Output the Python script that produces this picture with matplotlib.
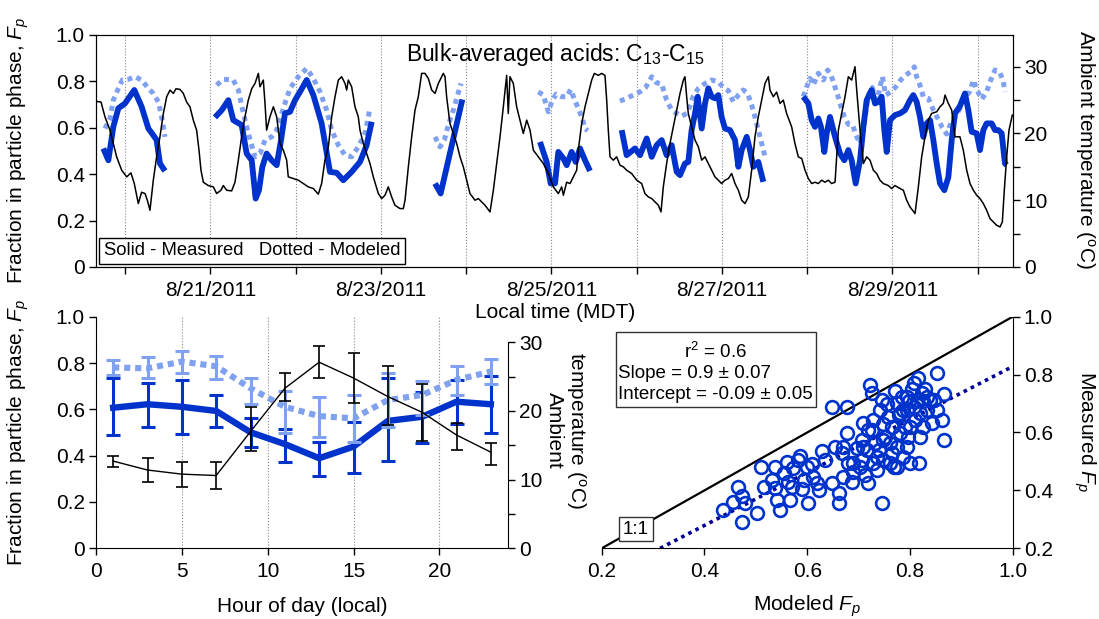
import numpy as np
import matplotlib
matplotlib.use("Agg")
import matplotlib.pyplot as plt
from matplotlib.patches import Rectangle

plt.rcParams['font.family'] = ['Liberation Sans', 'DejaVu Sans']
plt.rcParams['mathtext.fontset'] = 'custom'
plt.rcParams['mathtext.rm'] = 'Liberation Sans'
plt.rcParams['mathtext.it'] = 'Liberation Sans:italic'
plt.rcParams['mathtext.bf'] = 'Liberation Sans:bold'

# ---------------- data: top panel (time in fractional day of August 2011) ----------------
temp_day = [19.668, 19.719, 19.765, 19.824, 19.863, 19.902, 19.961, 20.020, 20.070, 20.109, 20.156, 20.195,
            20.235, 20.262, 20.293, 20.332, 20.371, 20.410, 20.450, 20.489, 20.528, 20.567, 20.598, 20.645,
            20.684, 20.723, 20.762, 20.801, 20.840, 20.868, 20.891, 20.919, 20.977, 21.036, 21.075, 21.126,
            21.153, 21.192, 21.251, 21.290, 21.329, 21.368, 21.407, 21.446, 21.486, 21.525, 21.564, 21.583,
            21.622, 21.642, 21.661, 21.700, 21.740, 21.779, 21.818, 21.857, 21.896, 21.915, 21.974, 22.033,
            22.091, 22.150, 22.209, 22.267, 22.306, 22.345, 22.385, 22.424, 22.463, 22.502, 22.541, 22.580,
            22.600, 22.619, 22.658, 22.697, 22.736, 22.756, 22.795, 22.834, 22.873, 22.912, 22.971, 23.010,
            23.049, 23.088, 23.127, 23.166, 23.225, 23.264, 23.284, 23.323, 23.362, 23.401, 23.440, 23.479,
            23.518, 23.557, 23.597, 23.636, 23.675, 23.733, 23.753, 23.772, 23.811, 23.850, 23.890, 23.929,
            23.968, 24.007, 24.046, 24.105, 24.144, 24.183, 24.222, 24.281, 24.320, 24.359, 24.398, 24.437,
            24.476, 24.495, 24.515, 24.554, 24.593, 24.632, 24.671, 24.711, 24.750, 24.789, 24.847, 24.906,
            24.965, 25.023, 25.082, 25.121, 25.141, 25.180, 25.219, 25.258, 25.297, 25.316, 25.356, 25.395,
            25.434, 25.473, 25.504, 25.551, 25.590, 25.629, 25.649, 25.668, 25.688, 25.727, 25.766, 25.805,
            25.844, 25.883, 25.942, 26.001, 26.059, 26.098, 26.137, 26.177, 26.216, 26.255, 26.286, 26.313,
            26.352, 26.391, 26.431, 26.470, 26.509, 26.548, 26.567, 26.587, 26.606, 26.645, 26.685, 26.724,
            26.763, 26.802, 26.841, 26.880, 26.919, 26.958, 26.997, 27.036, 27.076, 27.115, 27.154, 27.193,
            27.232, 27.271, 27.310, 27.349, 27.388, 27.427, 27.466, 27.506, 27.545, 27.564, 27.603, 27.642,
            27.681, 27.720, 27.759, 27.818, 27.857, 27.896, 27.936, 27.975, 28.014, 28.053, 28.092, 28.131,
            28.170, 28.209, 28.248, 28.287, 28.327, 28.366, 28.405, 28.444, 28.483, 28.522, 28.561, 28.581,
            28.620, 28.659, 28.698, 28.737, 28.776, 28.815, 28.854, 28.893, 28.952, 28.991, 29.030, 29.089,
            29.128, 29.167, 29.206, 29.265, 29.304, 29.343, 29.382, 29.421, 29.460, 29.519, 29.558, 29.597,
            29.617, 29.656, 29.695, 29.734, 29.792, 29.831, 29.871, 29.910, 29.949, 29.988, 30.027, 30.066,
            30.105, 30.144, 30.183, 30.222, 30.262, 30.289, 30.312, 30.340, 30.367, 30.406]
temp_c = [24.8, 24.7, 22.5, 20.5, 18.5, 16.5, 14.5, 13.5, 14.1, 12.5, 9.5, 11.2,
          11.0, 10.0, 8.5, 13.0, 16.5, 19.5, 23.0, 25.5, 26.5, 26.0, 26.7, 26.6,
          26.0, 24.7, 24.0, 22.0, 20.5, 17.5, 14.5, 12.7, 12.2, 12.0, 11.0, 11.5,
          12.2, 11.5, 11.4, 12.7, 16.0, 19.5, 22.5, 25.0, 26.7, 27.5, 29.0, 27.0,
          28.0, 24.5, 20.5, 22.5, 24.0, 22.5, 18.5, 17.5, 16.0, 13.5, 13.25, 13.0,
          12.5, 12.0, 11.75, 10.9, 12.5, 16.0, 18.0, 22.5, 25.5, 28.0, 28.5, 27.5,
          26.5, 28.0, 27.0, 24.0, 22.5, 20.5, 18.5, 17.0, 15.5, 13.5, 11.0, 10.25,
          10.75, 12.0, 10.5, 9.25, 8.75, 8.75, 10.0, 15.0, 19.5, 23.5, 25.5, 29.0,
          29.0, 28.25, 26.5, 26.0, 27.5, 29.0, 28.5, 25.5, 21.5, 20.0, 18.5, 16.5,
          15.0, 13.0, 11.0, 10.0, 10.25, 9.75, 9.25, 8.25, 11.5, 15.5, 19.5, 24.0,
          28.7, 23.0, 28.5, 27.5, 24.0, 22.0, 20.0, 22.0, 20.5, 17.5, 16.5, 15.5,
          14.0, 12.0, 11.0, 12.0, 10.75, 12.7, 12.5, 13.5, 14.5, 17.5, 21.5, 24.0,
          26.0, 28.0, 29.0, 28.7, 29.0, 28.7, 25.0, 20.5, 16.5, 16.0, 16.5, 15.25,
          15.0, 14.5, 14.0, 13.0, 12.5, 11.0, 10.5, 10.25, 9.75, 9.25, 8.25, 12.0,
          15.5, 18.5, 21.0, 23.5, 26.0, 28.0, 28.5, 25.5, 23.0, 21.0, 19.0, 18.0,
          16.0, 16.5, 15.5, 14.5, 13.5, 13.0, 12.5, 13.0, 13.25, 14.0, 12.5, 11.5,
          10.0, 9.5, 10.5, 14.5, 19.5, 22.5, 25.0, 27.5, 28.5, 26.5, 25.5, 26.2,
          24.5, 25.0, 23.0, 21.0, 18.5, 16.5, 16.25, 14.5, 13.25, 12.5, 12.7, 12.5,
          13.0, 12.7, 13.0, 12.5, 12.7, 20.5, 23.0, 25.5, 28.5, 28.0, 30.0, 26.5,
          20.5, 15.5, 16.5, 16.0, 14.5, 14.0, 13.0, 12.5, 12.2, 11.75, 12.2, 11.75,
          11.5, 10.0, 9.0, 8.0, 12.0, 16.5, 19.5, 22.0, 23.0, 23.25, 24.0, 24.5,
          25.75, 24.5, 23.5, 19.5, 19.5, 17.5, 14.5, 12.5, 11.5, 10.75, 10.25, 9.5,
          8.5, 7.25, 6.75, 6.25, 6.0, 6.75, 11.5, 16.5, 20.5, 22.75]

nan = float('nan')
meas_day = [19.746, 19.805, 19.863, 19.922, 20.000, 20.109, 20.195, 20.274, 20.332, 20.371, 20.410, 20.469, nan,
            21.055, 21.134, 21.212, 21.270, 21.368, 21.427, 21.486, 21.532, 21.571, 21.611, 21.661, 21.720,
            21.779, 21.830, 21.876, 21.935, 21.994, 22.052, 22.131, 22.209, 22.306, 22.404, 22.482, 22.560,
            22.658, 22.756, 22.834, 22.893, nan,
            23.636, 23.702, 23.956, nan,
            24.867, 24.945, 24.992, 25.043, 25.082, 25.141, 25.180, 25.238, 25.285, 25.336, 25.395, 25.453, nan,
            25.825, 25.883, 25.981, 26.040, 26.118, 26.177, 26.235, 26.294, 26.352, 26.411, 26.470, 26.509,
            26.567, 26.606, 26.645, 26.685, 26.716, 26.763, 26.802, 26.841, 26.880, 26.919, 26.958, 26.997,
            27.036, 27.095, 27.154, 27.193, 27.232, 27.291, 27.330, 27.369, 27.427, 27.486, nan,
            27.955, 28.014, 28.053, 28.092, 28.131, 28.162, 28.201, 28.229, 28.268, 28.327, 28.385, 28.436,
            28.483, 28.522, 28.569, 28.620, 28.659, 28.698, 28.756, 28.796, 28.835, 28.874, 28.905, 28.933,
            28.972, 29.030, 29.089, 29.147, 29.206, 29.245, 29.284, 29.323, 29.362, 29.402, 29.441, 29.480,
            29.519, 29.558, 29.609, 29.656, 29.695, 29.734, 29.792, 29.851, 29.890, 29.929, 29.988, 30.027,
            30.066, 30.105, 30.164, 30.203, 30.242, 30.281, 30.320, 30.340]
meas_fp = [0.511, 0.460, 0.604, 0.684, 0.705, 0.763, 0.691, 0.597, 0.568, 0.547, 0.446, 0.414, nan,
           0.645, 0.676, 0.719, 0.633, 0.612, 0.489, 0.460, 0.295, 0.331, 0.432, 0.489, 0.460,
           0.439, 0.547, 0.662, 0.669, 0.719, 0.755, 0.806, 0.741, 0.619, 0.410, 0.406, 0.374,
           0.410, 0.453, 0.525, 0.626, nan,
           0.360, 0.317, 0.722, nan,
           0.539, 0.453, 0.360, 0.360, 0.496, 0.468, 0.439, 0.496, 0.453, 0.511, 0.460, 0.414, nan,
           0.590, 0.482, 0.511, 0.482, 0.554, 0.475, 0.525, 0.547, 0.482, 0.525, 0.410, 0.396,
           0.446, 0.453, 0.590, 0.662, 0.734, 0.597, 0.705, 0.770, 0.734, 0.727, 0.741, 0.647,
           0.597, 0.590, 0.547, 0.432, 0.504, 0.561, 0.504, 0.432, 0.453, 0.367, nan,
           0.734, 0.705, 0.633, 0.604, 0.640, 0.604, 0.496, 0.576, 0.647, 0.561, 0.489, 0.460,
           0.504, 0.460, 0.360, 0.460, 0.604, 0.719, 0.763, 0.705, 0.712, 0.734, 0.590, 0.496,
           0.633, 0.655, 0.662, 0.676, 0.719, 0.741, 0.712, 0.647, 0.561, 0.619, 0.633, 0.547,
           0.446, 0.360, 0.331, 0.388, 0.547, 0.662, 0.694, 0.748, 0.676, 0.583, 0.576, 0.504,
           0.590, 0.619, 0.619, 0.590, 0.590, 0.576, 0.446, 0.439]

mod_day = [19.765, 19.824, 19.863, 19.914, 19.969, 20.039, 20.117, 20.195, 20.274, 20.332, 20.391, 20.430, 20.469, nan,
           21.075, 21.153, 21.270, 21.329, 21.380, 21.427, 21.474, 21.525, 21.583, 21.642, 21.720, 21.779,
           21.857, 21.935, 22.033, 22.131, 22.209, 22.287, 22.365, 22.424, 22.502, 22.580, 22.658, 22.736,
           22.815, 22.873, nan,
           23.636, 23.694, 23.745, 23.792, 23.850, 23.901, 23.940, nan,
           24.847, 24.906, 24.965, 25.004, 25.055, 25.121, 25.180, 25.227, 25.266, 25.324, 25.363, 25.395, 25.426, nan,
           25.805, 25.883, 25.961, 26.040, 26.106, 26.177, 26.235, 26.294, 26.352, 26.411, 26.470, 26.528,
           26.587, 26.626, 26.665, 26.724, 26.802, 26.880, 26.958, 27.017, 27.076, 27.134, 27.193, 27.251,
           27.302, 27.349, 27.388, 27.427, 27.466, 27.506, nan,
           27.955, 27.994, 28.033, 28.072, 28.131, 28.190, 28.240, 28.280, 28.319, 28.358, 28.397, 28.436,
           28.483, 28.534, 28.573, 28.620, 28.659, 28.686, 28.717, 28.764, 28.803, 28.842, 28.882, 28.921,
           28.983, 29.038, 29.097, 29.155, 29.214, 29.257, 29.284, 29.323, 29.362, 29.421, 29.480, 29.538,
           29.585, 29.636, 29.695, 29.753, 29.804, 29.859, 29.910, 29.949, 29.992, 30.047, 30.105, 30.144,
           30.203, 30.262, 30.301, 30.320]
mod_fp = [0.597, 0.640, 0.719, 0.763, 0.806, 0.809, 0.820, 0.806, 0.770, 0.748, 0.712, 0.647, 0.561, nan,
          0.784, 0.809, 0.806, 0.763, 0.676, 0.604, 0.539, 0.475, 0.489, 0.547, 0.561, 0.590,
          0.684, 0.770, 0.820, 0.856, 0.813, 0.755, 0.676, 0.590, 0.525, 0.482, 0.475, 0.518,
          0.576, 0.684, nan,
          0.561, 0.518, 0.547, 0.612, 0.676, 0.741, 0.791, nan,
          0.755, 0.741, 0.669, 0.712, 0.745, 0.734, 0.734, 0.765, 0.727, 0.677, 0.640, 0.597, 0.587, nan,
          0.715, 0.727, 0.741, 0.755, 0.774, 0.820, 0.794, 0.789, 0.719, 0.676, 0.662, 0.650,
          0.662, 0.694, 0.737, 0.770, 0.791, 0.806, 0.798, 0.774, 0.760, 0.712, 0.741, 0.763,
          0.748, 0.698, 0.647, 0.590, 0.532, 0.475, nan,
          0.734, 0.776, 0.813, 0.784, 0.835, 0.806, 0.849, 0.827, 0.784, 0.741, 0.691, 0.647,
          0.615, 0.612, 0.568, 0.532, 0.590, 0.662, 0.741, 0.774, 0.719, 0.755, 0.820, 0.741,
          0.755, 0.776, 0.806, 0.827, 0.842, 0.863, 0.820, 0.784, 0.734, 0.727, 0.676, 0.636,
          0.601, 0.573, 0.630, 0.655, 0.694, 0.734, 0.758, 0.806, 0.763, 0.723, 0.755, 0.798,
          0.849, 0.837, 0.798, 0.755]

date_ticks = [20, 21, 22, 23, 24, 25, 26, 27, 28, 29, 30]
date_labels = ['', '8/21/2011', '', '8/23/2011', '', '8/25/2011', '', '8/27/2011', '', '8/29/2011', '']

# ---------------- data: diurnal panel ----------------
hours = [1, 3, 5, 7, 9, 11, 13, 15, 17, 19, 21, 23]
meas_mean = [0.607, 0.622, 0.611, 0.593, 0.501, 0.450, 0.389, 0.439, 0.550, 0.568, 0.633, 0.622]
meas_lo = [0.489, 0.525, 0.492, 0.525, 0.439, 0.371, 0.313, 0.324, 0.378, 0.453, 0.535, 0.496]
meas_hi = [0.734, 0.715, 0.727, 0.662, 0.561, 0.515, 0.458, 0.547, 0.734, 0.676, 0.727, 0.744]
mod_mean = [0.781, 0.777, 0.806, 0.786, 0.691, 0.611, 0.571, 0.561, 0.640, 0.662, 0.727, 0.763]
mod_lo = [0.748, 0.734, 0.758, 0.731, 0.622, 0.499, 0.482, 0.460, 0.525, 0.576, 0.662, 0.709]
mod_hi = [0.813, 0.825, 0.852, 0.832, 0.737, 0.679, 0.652, 0.662, 0.756, 0.722, 0.789, 0.816]
temp_mean = [12.7, 11.4, 10.8, 10.6, 17.0, 23.3, 27.1, 24.8, 22.1, 19.8, 16.5, 14.0]
temp_lo = [11.9, 9.6, 9.0, 8.6, 14.2, 21.5, 24.8, 21.1, 18.0, 15.6, 14.3, 12.2]
temp_hi = [13.5, 13.2, 12.6, 12.6, 20.6, 25.6, 29.5, 28.4, 26.6, 24.0, 18.2, 15.4]

# ---------------- data: scatter panel ----------------
modeled_fp = [0.437, 0.456, 0.466, 0.473, 0.479, 0.474, 0.502, 0.510, 0.537, 0.531, 0.537, 0.541, 0.547,
              0.560, 0.554, 0.563, 0.570, 0.567, 0.573, 0.583, 0.586, 0.589, 0.602, 0.599, 0.609, 0.612,
              0.619, 0.622, 0.628, 0.635, 0.648, 0.654, 0.661, 0.661, 0.667, 0.670, 0.677, 0.678, 0.680,
              0.687, 0.690, 0.696, 0.706, 0.706, 0.709, 0.713, 0.716, 0.719, 0.719, 0.722, 0.726, 0.728,
              0.729, 0.732, 0.735, 0.739, 0.746, 0.745, 0.747, 0.752, 0.755, 0.758, 0.761, 0.765, 0.768,
              0.771, 0.774, 0.778, 0.781, 0.784, 0.787, 0.791, 0.794, 0.797, 0.800, 0.804, 0.807, 0.810,
              0.813, 0.816, 0.820, 0.823, 0.826, 0.829, 0.833, 0.839, 0.842, 0.852, 0.862, 0.866, 0.867,
              0.818, 0.799, 0.787, 0.703, 0.709, 0.735, 0.748, 0.761, 0.774, 0.781, 0.794, 0.807, 0.820,
              0.826, 0.794, 0.748, 0.726, 0.742, 0.774, 0.800, 0.846, 0.852, 0.833, 0.765, 0.690, 0.670,
              0.648, 0.593, 0.515]
measured_fp = [0.332, 0.361, 0.413, 0.381, 0.355, 0.292, 0.321, 0.482, 0.482, 0.436, 0.407, 0.367, 0.332,
               0.499, 0.459, 0.430, 0.413, 0.367, 0.476, 0.505, 0.519, 0.404, 0.355, 0.482, 0.491, 0.448,
               0.425, 0.401, 0.537, 0.505, 0.689, 0.551, 0.392, 0.355, 0.528, 0.448, 0.597, 0.689, 0.494,
               0.430, 0.465, 0.545, 0.574, 0.505, 0.632, 0.453, 0.540, 0.425, 0.609, 0.764, 0.738, 0.494,
               0.643, 0.563, 0.471, 0.540, 0.355, 0.712, 0.629, 0.586, 0.699, 0.655, 0.563, 0.618, 0.482,
               0.745, 0.551, 0.661, 0.597, 0.724, 0.517, 0.620, 0.678, 0.586, 0.494, 0.749, 0.772, 0.643,
               0.712, 0.787, 0.586, 0.735, 0.710, 0.749, 0.678, 0.712, 0.634, 0.807, 0.643, 0.733, 0.574,
               0.496, 0.710, 0.676, 0.482, 0.551, 0.517, 0.505, 0.494, 0.482, 0.666, 0.724, 0.689, 0.666,
               0.620, 0.551, 0.574, 0.609, 0.678, 0.701, 0.620, 0.712, 0.678, 0.724, 0.528, 0.494, 0.551,
               0.425, 0.436, 0.413]
fit_slope = 0.915
fit_intercept = -0.087

# ---------------- styling ----------------
BLUE = '#0033CC'
LIGHT = '#80A0F0'
NAVY = '#000099'
FS = 15
W, H = 1099, 619
fig = plt.figure(figsize=(W / 100, H / 100), dpi=100)


def px_axes(l, t, r, b):
    return fig.add_axes([l / W, 1 - b / H, (r - l) / W, (b - t) / H])


def ftext(x, y, s, **kw):
    fig.text(x / W, 1 - y / H, s, ha=kw.pop('ha', 'center'), va=kw.pop('va', 'center'), **kw)


tick_kw = dict(direction='out', length=5, width=1, labelsize=FS, pad=3)

# ================= top panel =================
ax1 = px_axes(96, 35, 1013, 267)
ax1t = ax1.twinx()
ax1.plot(meas_day, meas_fp, color=BLUE, lw=4.2, solid_joinstyle='round', solid_capstyle='butt', zorder=3)
ax1.plot(mod_day, mod_fp, color=LIGHT, lw=3.6, linestyle=(0, (1, 0.9)), zorder=2)
ax1t.plot(temp_day, temp_c, color='black', lw=1.1)
ax1.set_xlim(19.66, 30.414)
ax1.set_ylim(0, 1)
ax1t.set_ylim(0, 34.75)
ax1.set_xticks(date_ticks)
ax1.set_xticklabels(date_labels)
ax1.set_yticks([0, 0.2, 0.4, 0.6, 0.8, 1.0])
ax1.set_yticklabels(['0', '0.2', '0.4', '0.6', '0.8', '1.0'])
ax1t.set_yticks([0, 10, 20, 30])
ax1t.set_yticks([5, 15, 25], minor=True)
ax1.grid(axis='x', linestyle=':', color='#888888', lw=0.8)
ax1.tick_params(**tick_kw)
ax1.tick_params(axis='x', pad=5)
ax1t.tick_params(which='both', **tick_kw)
ax1.text((555 - 96) / 917, (267 - 55) / 232, 'Bulk-averaged acids: C$_{13}$-C$_{15}$',
         transform=ax1.transAxes, ha='center', va='center', fontsize=16.5)
ax1.text((104 - 96) / 917, (267 - 251) / 232, 'Solid - Measured   Dotted - Modeled',
         transform=ax1.transAxes, ha='left', va='center', fontsize=13.3, zorder=10,
         bbox=dict(boxstyle='square,pad=0.25', fc='white', ec='black', lw=1))
ftext(18, 150, 'Fraction in particle phase, $F_p$', rotation=90, fontsize=FS)
ftext(1085, 150, 'Ambient temperature ($^{\\rm o}$C)', rotation=270, fontsize=FS)
ftext(555, 313, 'Local time (MDT)', fontsize=FS)

# ================= bottom-left: diurnal =================
ax2 = px_axes(96, 316.7, 508, 548.3)
ax2t = ax2.twinx()
m_err = [np.array(meas_mean) - np.array(meas_lo), np.array(meas_hi) - np.array(meas_mean)]
p_err = [np.array(mod_mean) - np.array(mod_lo), np.array(mod_hi) - np.array(mod_mean)]
t_err = [np.array(temp_mean) - np.array(temp_lo), np.array(temp_hi) - np.array(temp_mean)]
ax2.errorbar(hours, meas_mean, yerr=m_err, fmt='none', ecolor=BLUE, elinewidth=2.2, capsize=5, capthick=2.2, zorder=2)
ax2.plot(hours, meas_mean, color=BLUE, lw=4.6, solid_joinstyle='round', zorder=3)
ax2.errorbar(hours, mod_mean, yerr=p_err, fmt='none', ecolor=LIGHT, elinewidth=2.2, capsize=5, capthick=2.2, zorder=4)
ax2.plot(hours, mod_mean, color=LIGHT, lw=4.4, linestyle=(0, (1, 0.8)), zorder=4)
ax2t.errorbar(hours, temp_mean, yerr=t_err, fmt='none', ecolor='black', elinewidth=1.2, capsize=4.5, capthick=1.2)
ax2t.plot(hours, temp_mean, color='black', lw=1.0)
ax2.set_xlim(0, 24)
ax2.set_ylim(0, 1)
ax2t.set_ylim(0, 33.73)
ax2.set_xticks([0, 5, 10, 15, 20])
ax2.set_yticks([0, 0.2, 0.4, 0.6, 0.8, 1.0])
ax2.set_yticklabels(['0', '0.2', '0.4', '0.6', '0.8', '1.0'])
ax2t.set_yticks([0, 10, 20, 30])
ax2t.set_yticks([5, 15, 25], minor=True)
ax2.grid(axis='x', linestyle=':', color='#888888', lw=0.8)
for sp in ['top', 'right']:
    ax2.spines[sp].set_visible(False)
for sp in ['top', 'left', 'bottom']:
    ax2t.spines[sp].set_visible(False)
ax2t.spines['right'].set_bounds(0, 30)
ax2.tick_params(**tick_kw)
ax2.tick_params(axis='x', pad=5)
ax2t.tick_params(which='both', **tick_kw)
ftext(18, 432, 'Fraction in particle phase, $F_p$', rotation=90, fontsize=FS)
ftext(566, 430, 'temperature ($^{\\rm o}$C)\nAmbient', rotation=270, fontsize=FS, multialignment='center',
      linespacing=1.0)
ftext(302, 606, 'Hour of day (local)', fontsize=FS)

# ================= bottom-right: scatter =================
ax3 = px_axes(601.7, 316.7, 1012.7, 548.3)
ax3.plot([0.2, 1.0], [0.2, 1.0], color='black', lw=1.6, zorder=2)
x0 = (0.2 - fit_intercept) / fit_slope
ax3.plot([x0, 1.0], [fit_slope * x0 + fit_intercept, fit_slope * 1.0 + fit_intercept],
         color=NAVY, lw=2.6, linestyle=(0, (1, 1.2)), zorder=3)
ax3.plot(modeled_fp, measured_fp, linestyle='none', marker='o', ms=9.2, mfc='none', mec=BLUE, mew=1.9, zorder=4)
ax3.set_xlim(0.2, 1.0)
ax3.set_ylim(0.2, 1.0)
ticks3 = [0.2, 0.4, 0.6, 0.8, 1.0]
ax3.set_xticks(ticks3)
ax3.set_yticks(ticks3)
ax3.set_xticklabels(['0.2', '0.4', '0.6', '0.8', '1.0'])
ax3.set_yticklabels(['0.2', '0.4', '0.6', '0.8', '1.0'])
ax3.yaxis.tick_right()
for sp in ['top', 'left']:
    ax3.spines[sp].set_visible(False)
ax3.tick_params(**tick_kw)
ax3.tick_params(axis='x', pad=5)
ax3.add_patch(Rectangle((0.227, 0.687), 0.617 - 0.227, 0.948 - 0.687, fc='white', ec='#333333', lw=1.0,
                        zorder=5, clip_on=False))
ax3.text(0.4205, 0.878, 'r$^2$ = 0.6', ha='center', va='center', fontsize=13.5, zorder=6)
ax3.text(0.232, 0.804, 'Slope = 0.9 \u00b1 0.07', ha='left', va='center', fontsize=13.5, zorder=6)
ax3.text(0.232, 0.730, 'Intercept = -0.09 \u00b1 0.05', ha='left', va='center', fontsize=13.5, zorder=6)
ax3.text(0.267, 0.266, '1:1', ha='center', va='center', fontsize=13.5, zorder=6,
         bbox=dict(boxstyle='square,pad=0.2', fc='white', ec='#333333', lw=1.0))
ftext(1085, 432, 'Measured $F_p$', rotation=270, fontsize=FS)
ftext(807, 606, 'Modeled $F_p$', fontsize=FS)

fig.savefig('out.png', dpi=100)
